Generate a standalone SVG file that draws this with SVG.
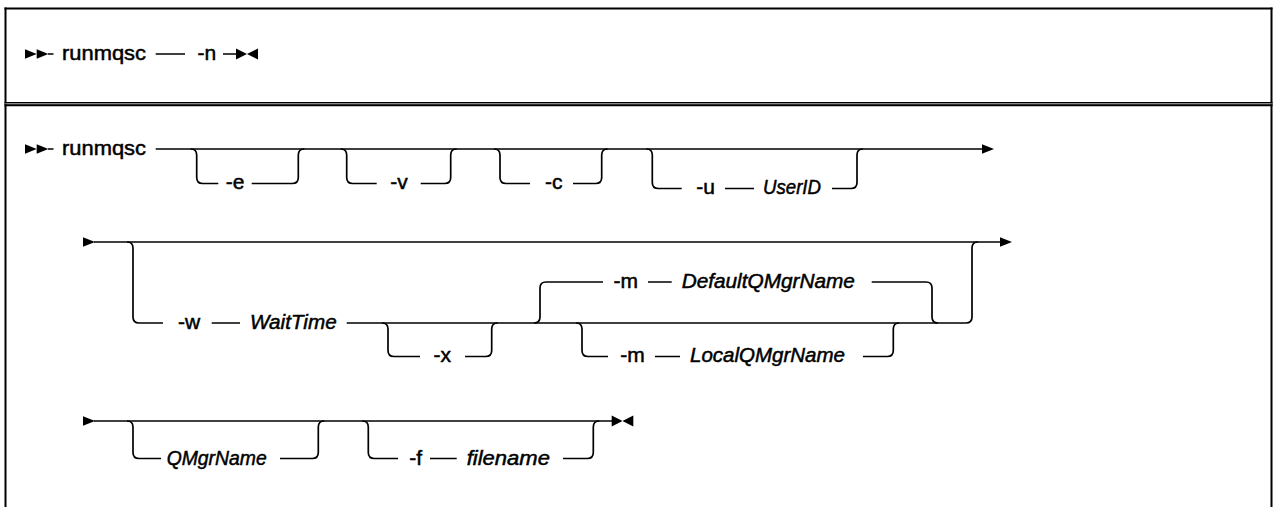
<svg xmlns="http://www.w3.org/2000/svg" width="1273" height="507" viewBox="0 0 1273 507">
<style>
.t{font-family:"Liberation Sans",Arial,sans-serif;font-size:21px;fill:#000;stroke:#000;stroke-width:0.5;text-anchor:middle}
.i{font-style:italic}
.c{fill:none;stroke:#000;stroke-width:1.7}
.f{fill:none;stroke:#000}
.a{fill:#000;stroke:none}
</style>
<rect width="1273" height="507" fill="#fff"/>
<g id="frame">
<line class="f" x1="5.5" y1="7.5" x2="5.5" y2="507" stroke-width="2"/>
<line class="f" x1="4.5" y1="8.5" x2="1272.5" y2="8.5" stroke-width="2"/>
<line class="f" x1="1271.5" y1="7.5" x2="1271.5" y2="507" stroke-width="2"/>
<line x1="4.5" y1="102.6" x2="1272.5" y2="102.6" stroke="#000" stroke-width="1.2"/>
<line x1="4.5" y1="103.8" x2="1272.5" y2="103.8" stroke="#777" stroke-width="1.2"/>
<line x1="4.5" y1="105.3" x2="1272.5" y2="105.3" stroke="#000" stroke-width="2"/>
</g>
<g id="connectors">
<!-- row 1 -->
<polygon class="a" points="25,49.2 36.7,54 25,58.8"/>
<polygon class="a" points="36.7,49.2 48.3,54 36.7,58.8"/>
<path class="c" d="M48 54H53.5M155.7 54H185M223 54H237"/>
<polygon class="a" points="236,48.5 247,54 236,59.5 "/>
<polygon class="a" points="258,48.5 247,54 258,59.5"/>
<!-- row 2 -->
<polygon class="a" points="25,144.2 36.7,149 25,153.8"/>
<polygon class="a" points="36.7,144.2 48.3,149 36.7,153.8"/>
<path class="c" d="M48 149H53.5M155.7 149H983"/>
<polygon class="a" points="982,144.2 994,149 982,153.8"/>
<path class="c" d="M190.7 149Q196.7 149 196.7 155V177.5Q196.7 183.5 202.7 183.5H218.3M251.7 183.5H292.3Q298.3 183.5 298.3 177.5V155Q298.3 149 304.3 149"/>
<path class="c" d="M340.7 149Q346.7 149 346.7 155V177.5Q346.7 183.5 352.7 183.5H376.7M420.7 183.5H444.7Q450.7 183.5 450.7 177.5V155Q450.7 149 456.7 149"/>
<path class="c" d="M494 149Q500 149 500 155V177.5Q500 183.5 506 183.5H530M573 183.5H595.7Q601.7 183.5 601.7 177.5V155Q601.7 149 607.7 149"/>
<path class="c" d="M646.3 149Q652.3 149 652.3 155V182.5Q652.3 188.5 658.3 188.5H681.7M725 188.5H754M832 188.5H851Q857 188.5 857 182.5V155Q857 149 863 149"/>
<!-- row 3 -->
<polygon class="a" points="83,237.2 95,242 83,246.8"/>
<path class="c" d="M94 242H1001"/>
<polygon class="a" points="1000,237.2 1012,242 1000,246.8"/>
<path class="c" d="M127 242Q133 242 133 248V317Q133 323 139 323H163M211.7 323H240M346.7 323H966Q972 323 972 317V248Q972 242 978 242"/>
<path class="c" d="M382 323Q388 323 388 329V350.5Q388 356.5 394 356.5H420M465 356.5H485.7Q491.7 356.5 491.7 350.5V329Q491.7 323 497.7 323"/>
<path class="c" d="M534 323Q540 323 540 317V288Q540 282 546 282H603M648 282H671.7M871.7 282H926Q932 282 932 288V317Q932 323 938 323"/>
<path class="c" d="M576 323Q582 323 582 329V350.5Q582 356.5 588 356.5H608M655 356.5H680M863 356.5H887.3Q893.3 356.5 893.3 350.5V329Q893.3 323 899.3 323"/>
<!-- row 4 -->
<polygon class="a" points="83,416.2 95,421 83,425.8"/>
<path class="c" d="M94 421H612"/>
<polygon class="a" points="611.7,415.5 622.5,421 611.7,426.5"/>
<polygon class="a" points="633.3,415.5 622.5,421 633.3,426.5"/>
<path class="c" d="M127 421Q133 421 133 427V452.5Q133 458.5 139 458.5H161M280 458.5H312.3Q318.3 458.5 318.3 452.5V427Q318.3 421 324.3 421"/>
<path class="c" d="M362.3 421Q368.3 421 368.3 427V452.5Q368.3 458.5 374.3 458.5H398M430 458.5H456.7M563 458.5H587.3Q593.3 458.5 593.3 452.5V427Q593.3 421 599.3 421"/>
</g>
<g id="n-runmqsc-1"><text class="t" x="104" y="59.5" textLength="84" lengthAdjust="spacingAndGlyphs">runmqsc</text></g>
<g id="n-n"><text class="t" x="206.8" y="59.5">-n</text></g>
<g id="n-runmqsc-2"><text class="t" x="104" y="154.5" textLength="84" lengthAdjust="spacingAndGlyphs">runmqsc</text></g>
<g id="n-e"><text class="t" x="235" y="189">-e</text></g>
<g id="n-v"><text class="t" x="399" y="189">-v</text></g>
<g id="n-c"><text class="t" x="553.7" y="189">-c</text></g>
<g id="n-u"><text class="t" x="705.5" y="194">-u</text></g>
<g id="n-userid"><text class="t i" x="792" y="194" textLength="58" lengthAdjust="spacingAndGlyphs">UserID</text></g>
<g id="n-w"><text class="t" x="189.2" y="328.5">-w</text></g>
<g id="n-waittime"><text class="t i" x="293.3" y="328.5" textLength="86.7" lengthAdjust="spacingAndGlyphs">WaitTime</text></g>
<g id="n-x"><text class="t" x="442.3" y="362">-x</text></g>
<g id="n-m-default"><text class="t" x="625.8" y="287.5">-m</text></g>
<g id="n-defaultqmgrname"><text class="t i" x="768.3" y="287.5" textLength="173.3" lengthAdjust="spacingAndGlyphs">DefaultQMgrName</text></g>
<g id="n-m-local"><text class="t" x="632.5" y="362">-m</text></g>
<g id="n-localqmgrname"><text class="t i" x="767.5" y="362" textLength="155" lengthAdjust="spacingAndGlyphs">LocalQMgrName</text></g>
<g id="n-qmgrname"><text class="t i" x="216.7" y="464.5" textLength="100" lengthAdjust="spacingAndGlyphs">QMgrName</text></g>
<g id="n-f"><text class="t" x="415.7" y="464.5">-f</text></g>
<g id="n-filename"><text class="t i" x="508.3" y="464.5" textLength="83.3" lengthAdjust="spacingAndGlyphs">filename</text></g>
</svg>
